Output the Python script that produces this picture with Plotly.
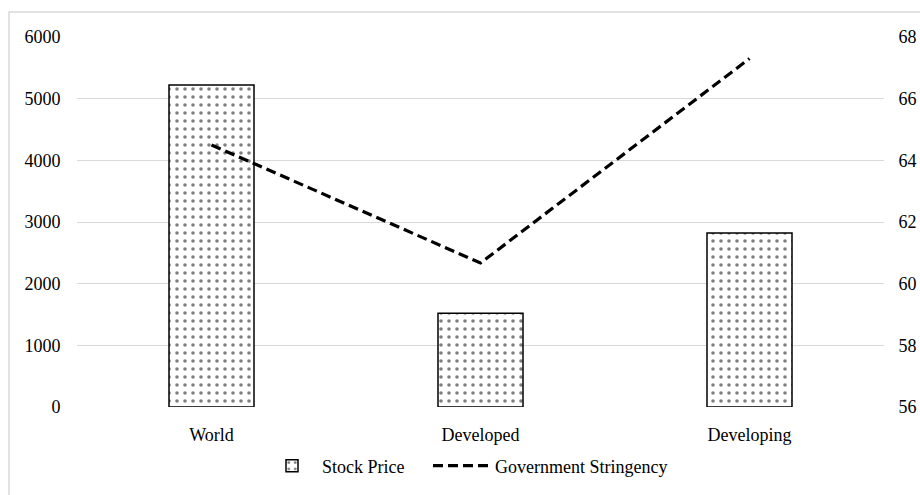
import plotly.graph_objects as go

# Regional values
regions = ["World", "Developed", "Developing"]
stock_price = [5220, 1520, 2820]
stringency = [64.5, 60.67, 67.3]

left_ticks = [0, 1000, 2000, 3000, 4000, 5000, 6000]
right_ticks = [56, 58, 60, 62, 64, 66, 68]

font_family = "Times New Roman, Liberation Serif, serif"
tick_font = dict(family=font_family, size=18, color="black")

fig = go.Figure()

fig.add_trace(go.Bar(
    x=regions,
    y=stock_price,
    name="Stock Price",
    width=0.316,
    legend="legend",
    marker=dict(
        color="white",
        line=dict(color="black", width=1.5),
        pattern=dict(shape=".", fgcolor="black", bgcolor="white",
                     size=8, solidity=0.16, fillmode="overlay"),
    ),
))

fig.add_trace(go.Scatter(
    x=regions,
    y=stringency,
    name="Government Stringency",
    mode="lines",
    yaxis="y2",
    legend="legend2",
    line=dict(color="black", width=3.2, dash="10px,5px"),
))

L, R, T, B = 77, 36, 37, 88
W, H = 920, 495
pw = W - L - R
ph = H - T - B
legend_y = (ph - (466 - T)) / ph

fig.update_layout(
    width=W,
    height=H,
    margin=dict(l=L, r=R, t=T, b=B, pad=0, autoexpand=False),
    paper_bgcolor="white",
    plot_bgcolor="white",
    font=dict(family=font_family, size=18, color="black"),
    bargap=0.5,
    showlegend=True,
    legend=dict(
        orientation="h",
        x=(262 - L) / pw, xanchor="left",
        y=legend_y, yanchor="middle",
        font=dict(family=font_family, size=18, color="black"),
        itemwidth=50,
    ),
    legend2=dict(
        orientation="h",
        x=(428 - L) / pw, xanchor="left",
        y=legend_y, yanchor="middle",
        font=dict(family=font_family, size=18, color="black"),
        itemwidth=57,
    ),
    xaxis=dict(
        type="category",
        automargin=False,
        showgrid=False,
        showline=False,
        zeroline=False,
        ticks="outside",
        ticklen=11,
        tickcolor="rgba(0,0,0,0)",
        tickfont=tick_font,
    ),
    yaxis=dict(
        range=[0, 6000],
        tickvals=left_ticks,
        automargin=False,
        showgrid=True,
        gridcolor="#d9d9d9",
        gridwidth=1,
        zeroline=False,
        showline=False,
        ticks="outside",
        ticklen=12,
        tickcolor="rgba(0,0,0,0)",
        tickfont=tick_font,
    ),
    yaxis2=dict(
        range=[56, 68],
        tickvals=right_ticks,
        automargin=False,
        overlaying="y",
        side="right",
        showgrid=False,
        zeroline=False,
        showline=False,
        ticks="outside",
        ticklen=10,
        tickcolor="rgba(0,0,0,0)",
        tickfont=tick_font,
    ),
)

# Outer chart frame
fig.add_shape(
    type="rect",
    xref="paper", yref="paper",
    x0=(9 - L) / pw, x1=(W + 10 - L) / pw,
    y0=(ph - (H + 10 - T)) / ph, y1=(ph - (12 - T)) / ph,
    line=dict(color="#d9d9d9", width=1.5),
    fillcolor="rgba(0,0,0,0)",
    layer="below",
)

fig.write_html("out.html")
